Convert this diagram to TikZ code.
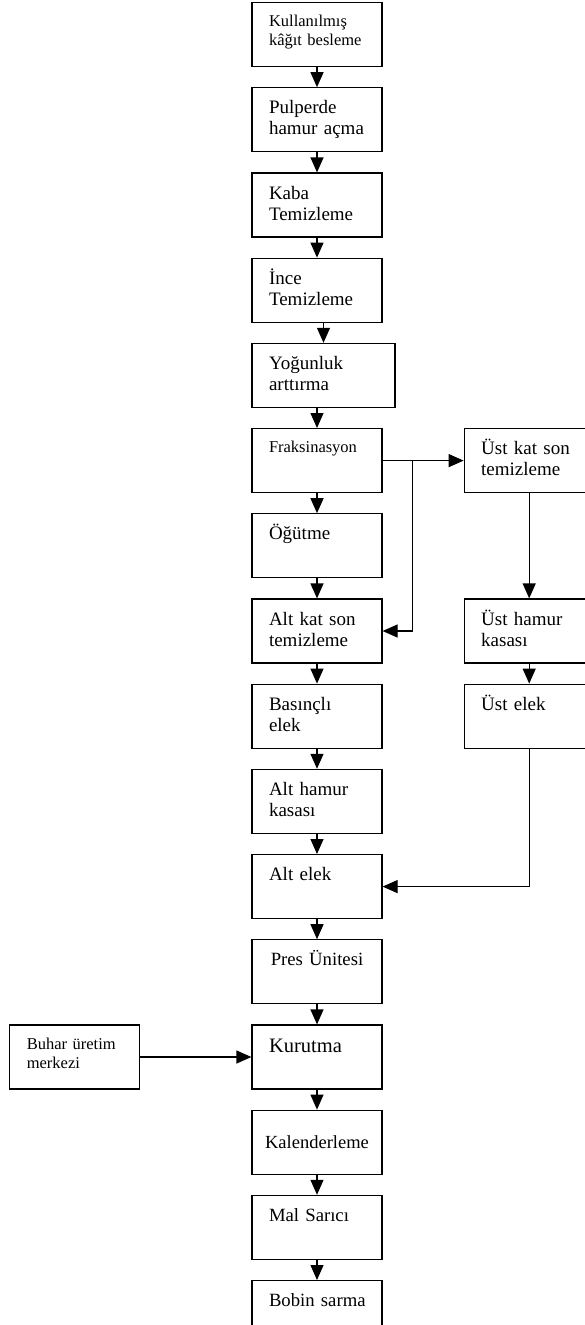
\documentclass[tikz,border=0pt]{standalone}
\usepackage{fontspec}
\setmainfont{Liberation Serif}
\usetikzlibrary{positioning,chains,arrows.meta,calc}

\begin{document}
\begin{tikzpicture}[
  box/.style={draw,line width=1.2pt,minimum width=130pt,text width=96pt,inner xsep=17pt,inner ysep=0pt,
    text height=26pt,text depth=38pt,align=left,font=\fontsize{19}{21}\selectfont},
  smallbox/.style={font=\fontsize{16.5}{19}\selectfont,text height=24pt,text depth=40pt},
  arr/.style={line width=1.2pt,-{Triangle[width=13pt,length=15pt]}}
]
\useasboundingbox (0,0) rectangle (585pt,-1325pt);
\clip (0,0) rectangle (585pt,-1325pt);

% the main column
\begin{scope}[start chain=going below,node distance=20pt]
  \node[box,smallbox,on chain,anchor=north] (besleme) at (317pt,-2pt) {Kullanılmış\\kâğıt besleme};
  \node[box,on chain] (pulper) {Pulperde\\hamur açma};
  \node[box,on chain] (kaba) {Kaba\\Temizleme};
  \node[box,on chain] (ince) {İnce\\Temizleme};
  \node[box,on chain,minimum width=143pt,text width=109pt,xshift=6.5pt] (yogunluk) {Yoğunluk\\arttırma};
  \node[box,smallbox,on chain,xshift=-6.5pt] (frak) {Fraksinasyon};
  \node[box,on chain] (ogutme) {Öğütme};
  \node[box,on chain] (altkat) {Alt kat son\\temizleme};
  \node[box,on chain] (basincli) {Basınçlı\\elek};
  \node[box,on chain] (althamur) {Alt hamur\\kasası};
  \node[box,on chain] (altelek) {Alt elek};
  \node[box,on chain,align=center,font=\fontsize{18.7}{21}\selectfont] (pres) {Pres Ünitesi};
  \node[box,on chain,font=\fontsize{20.5}{23}\selectfont,text height=27pt,text depth=37pt] (kurutma) {Kurutma};
  \node[box,on chain,text width=106pt,inner xsep=12pt,align=center,text height=38pt,text depth=26pt,
    font=\fontsize{18.5}{21}\selectfont] (kalender) {Kalenderleme};
  \node[box,on chain,font=\fontsize{18.7}{21}\selectfont] (malsarici) {Mal Sarıcı};
  \node[box,on chain,font=\fontsize{18.7}{21}\selectfont] (bobin) {\mbox{Bobin sarma}};
\end{scope}

% the right column
\node[box,right=81pt of frak] (ustkat) {Üst kat son\\temizleme};
\node[box,right=81pt of altkat] (usthamur) {Üst hamur\\kasası};
\node[box,right=81pt of basincli] (ustelek) {Üst elek};

% the steam supply
\node[box,smallbox,left=111pt of kurutma] (buhar) {Buhar üretim\\merkezi};

% the edges
\foreach \a/\b in {besleme/pulper,pulper/kaba,kaba/ince,ince/yogunluk,yogunluk/frak,frak/ogutme,
  ogutme/altkat,altkat/basincli,basincli/althamur,althamur/altelek,altelek/pres,pres/kurutma,
  kurutma/kalender,kalender/malsarici,malsarici/bobin,ustkat/usthamur,usthamur/ustelek}
  \draw[arr] (\a.south -| \b.north) -- (\b.north);
\draw[arr] (frak.east) -- (ustkat.west);
\coordinate (split) at ($(frak.east)!0.37!(ustkat.west)$);
\draw[arr] (split) |- (altkat.east);
\draw[arr] (ustelek.south) |- (altelek.east);
\draw[arr] (buhar.east) -- (kurutma.west);
\end{tikzpicture}
\end{document}
